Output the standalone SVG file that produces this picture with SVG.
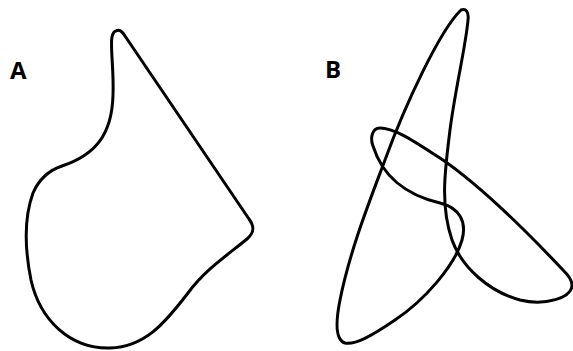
<svg xmlns="http://www.w3.org/2000/svg" width="573" height="351" viewBox="0 0 573 351">
<style>
.shape{fill:none;stroke:#000;stroke-width:3;stroke-linejoin:round;stroke-linecap:round}
.lbl{font-family:"Open Sans","Liberation Sans",sans-serif;font-weight:bold;font-size:24px;fill:#000}
</style>
<rect width="573" height="351" fill="#fff"/>
<g id="shapeA">
<path class="shape" d="M 116,31 C 119,29 122,31 125,36 L 249,219 C 255,227 254,233 247,239 C 225,257 205,270 188,293 C 165,323 145,347 110,348 C 70,349 40,320 31,280 C 24,245 25,215 33,193 C 40,177 50,170 62,166 C 95,155 112,135 113,95 C 114,70 110,45 112,37 C 113,33 114,31 116,31 Z"/>
<text class="lbl" x="10" y="79">A</text>
</g>
<g id="shapeB">
<path class="shape" d="M 461,10 C 466,8 469,12 468,20 C 466,45 455,90 450,130 C 445,170 440,205 452,240 C 462,268 490,292 520,300 C 545,306 572,298 572,285 C 572,280 568,275 563,270 C 530,235 480,185 440,158 C 415,142 395,128 380,128 C 372,128 370,138 373,146 C 382,175 405,195 440,203 C 460,208 467,222 462,240 C 455,265 425,300 395,320 C 370,337 355,345 345,343 C 335,340 336,320 340,300 C 350,250 370,200 385,160 C 405,105 440,30 461,10 Z"/>
<text class="lbl" x="325" y="78">B</text>
</g>
</svg>
